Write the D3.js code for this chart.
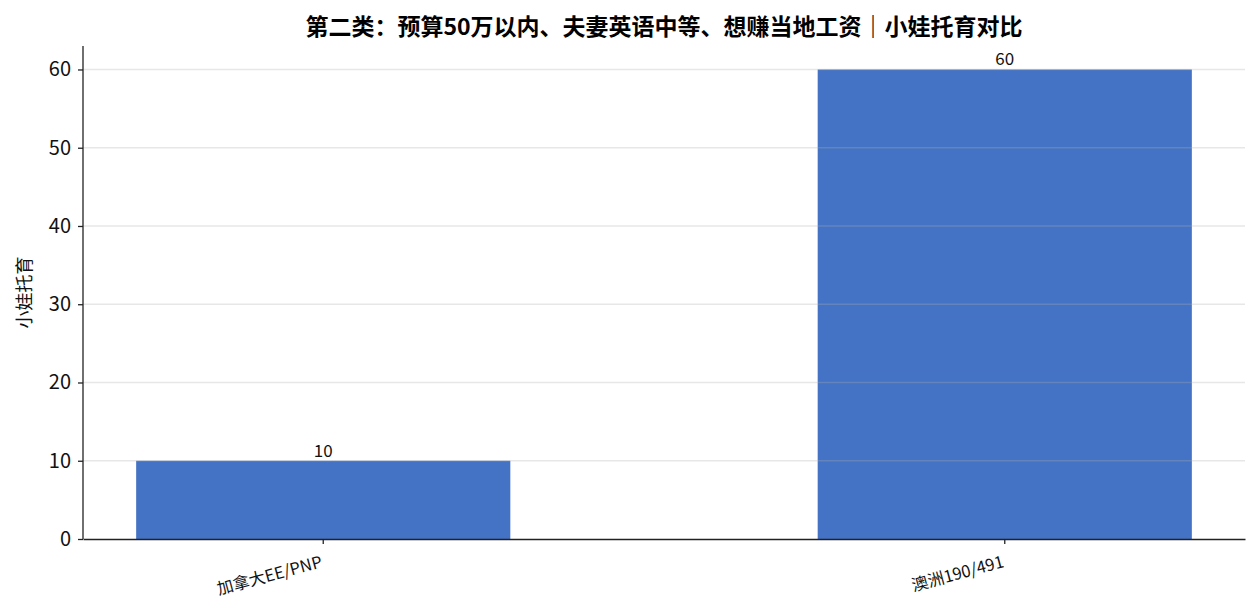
<!DOCTYPE html>
<html>
<head>
<meta charset="utf-8">
<script src="https://cdn.jsdelivr.net/npm/d3@7"></script>
<style>
  body { margin: 0; background: #fff; }
  svg { font-family: "Noto Sans CJK SC", "Noto Sans", sans-serif; }
</style>
</head>
<body>
<svg id="chart" width="1260" height="615"></svg>
<script>
var categories = ['加拿大EE/PNP', '澳洲190/491'];
var values = [10, 60];
var yTicks = [0, 10, 20, 30, 40, 50, 60];
var title = '第二类：预算50万以内、夫妻英语中等、想赚当地工资｜小娃托育对比';
var yLabel = '小娃托育';

var svg = d3.select('#chart');
var mLeft = 83, mRight = 1245, mTop = 46, mBottom = 539;

var scX = d3.scaleBand().domain(categories).range([mLeft, mRight])
    .paddingInner(0.451).paddingOuter(0.078);
var scY = d3.scaleLinear().domain([0, 63]).range([mBottom, mTop]);

// bars
svg.append('g').selectAll('rect').data(values).enter().append('rect')
    .attr('x', (d, i) => scX(categories[i]))
    .attr('y', d => scY(d))
    .attr('width', scX.bandwidth())
    .attr('height', d => scY(0) - scY(d))
    .attr('fill', '#4472C4');

// grid over bars
svg.append('g').selectAll('line').data(yTicks.slice(1)).enter().append('line')
    .attr('x1', mLeft).attr('x2', mRight)
    .attr('y1', d => scY(d)).attr('y2', d => scY(d))
    .attr('stroke', '#b0b0b0').attr('stroke-opacity', 0.3).attr('stroke-width', 1.5);

// value labels
svg.append('g').selectAll('text').data(values).enter().append('text')
    .attr('x', (d, i) => scX(categories[i]) + scX.bandwidth() / 2)
    .attr('y', d => scY(d) - 4)
    .attr('text-anchor', 'middle')
    .attr('font-size', 17)
    .attr('fill', '#111')
    .text(d => d);

// y axis
var gy = svg.append('g').attr('transform', 'translate(' + mLeft + ',0)')
    .call(d3.axisLeft(scY).tickValues(yTicks).tickSize(5).tickPadding(7));
gy.select('.domain').attr('stroke', '#222').attr('stroke-width', 1.3).attr('d', 'M0,' + mBottom + 'V' + mTop);
gy.selectAll('.tick line').attr('stroke', '#222').attr('stroke-width', 1.3);
gy.selectAll('.tick text').attr('font-size', 20).attr('fill', '#111').attr('font-family', '"Noto Sans CJK SC", sans-serif');

// x axis
var gx = svg.append('g').attr('transform', 'translate(0,' + mBottom + ')')
    .call(d3.axisBottom(scX).tickSize(5).tickSizeOuter(0));
gx.select('.domain').attr('stroke', '#222').attr('stroke-width', 1.3);
gx.selectAll('.tick line').attr('stroke', '#222').attr('stroke-width', 1.3);
gx.selectAll('.tick text')
    .attr('font-size', 16.5).attr('fill', '#111').attr('font-family', '"Noto Sans CJK SC", sans-serif')
    .attr('text-anchor', 'end').attr('dy', null).attr('y', 0)
    .attr('transform', 'translate(0,28) rotate(-15)');

// y label
svg.append('text')
    .attr('transform', 'translate(31,' + ((mTop + mBottom) / 2) + ') rotate(-90)')
    .attr('text-anchor', 'middle')
    .attr('font-size', 18)
    .attr('fill', '#111')
    .text(yLabel);

// title
svg.append('text')
    .attr('x', (mLeft + mRight) / 2).attr('y', 35)
    .attr('text-anchor', 'middle')
    .attr('font-size', 23).attr('font-weight', 'bold')
    .attr('fill', '#000')
    .text(title);
</script>
</body>
</html>
